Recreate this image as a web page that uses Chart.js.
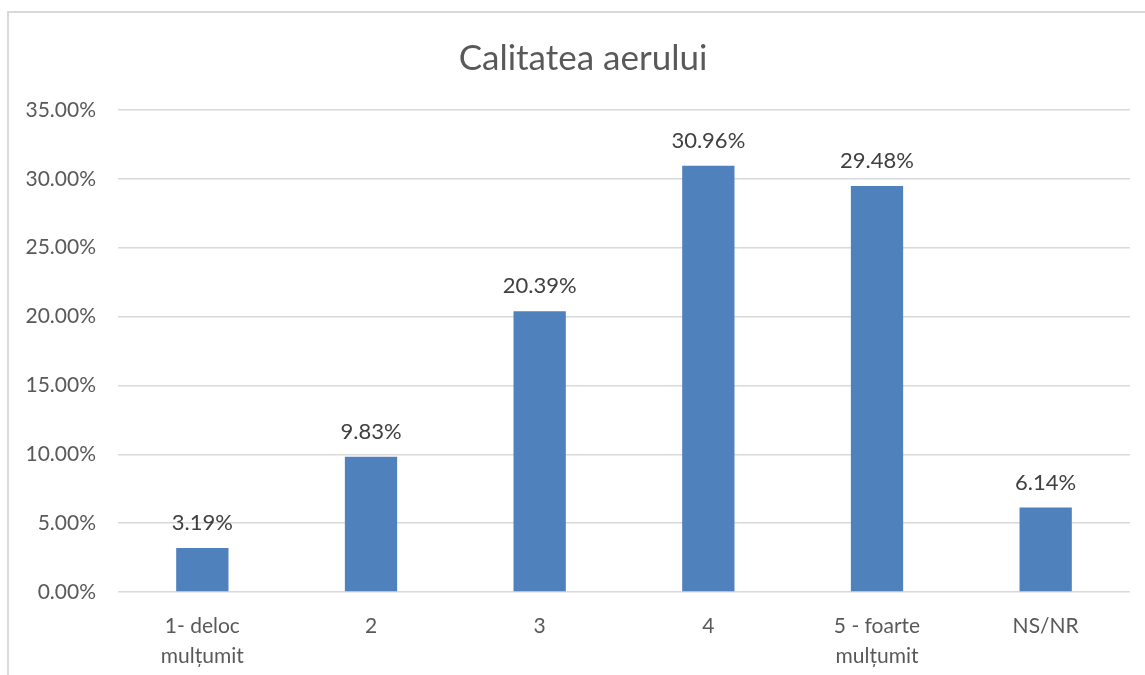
<!DOCTYPE html>
<html>
<head>
<meta charset="utf-8">
<script src="https://cdn.jsdelivr.net/npm/chart.js@4"></script>
<style>
  body { margin: 0; background: #fff; overflow: hidden; }
  #frame { position: absolute; left: 7px; top: 11px; width: 1200px; height: 700px; border: 2px solid #d9d9d9; }
  #wrap { position: absolute; left: 0; top: 0; width: 1145px; height: 675px; }
</style>
</head>
<body>
<div id="frame"></div>
<div id="wrap"><canvas id="myChart"></canvas></div>
<script>
// categories and values
var categories = [["1- deloc", "mulțumit"], "2", "3", "4", ["5 - foarte", "mulțumit"], "NS/NR"];
var values = [3.19, 9.83, 20.39, 30.96, 29.48, 6.14];
var yTicks = [0, 5, 10, 15, 20, 25, 30, 35];

var fontName = "Lato, 'Open Sans', sans-serif";

// labels above the bars
var barLabels = {
    id: 'barLabels',
    afterLayout: function (chart) {
        // nudge the title a bit to the right, like in the original
        if (chart.titleBlock) chart.titleBlock.left += 16;
    },
    afterDatasetsDraw: function (chart) {
        var ctx = chart.ctx;
        var meta = chart.getDatasetMeta(0);
        ctx.save();
        ctx.font = "22px " + fontName;
        ctx.fillStyle = "#404040";
        ctx.textAlign = "center";
        ctx.textBaseline = "middle";
        meta.data.forEach(function (bar, i) {
            ctx.fillText(values[i].toFixed(2) + "%", bar.x, bar.y - 25);
        });
        ctx.restore();
    }
};

var myChart = document.getElementById('myChart').getContext('2d');
var airChart = new Chart(myChart, {
    type: 'bar',
    data: {
        labels: categories,
        datasets: [{
            label: "Calitatea aerului",
            data: values,
            backgroundColor: "#4f81bd",
            categoryPercentage: 1,
            barPercentage: 0.31
        }]
    },
    options: {
        responsive: true,
        maintainAspectRatio: false,
        animation: false,
        layout: { padding: { left: 20, right: 15, top: 0, bottom: 0 } },
        plugins: {
            legend: { display: false },
            tooltip: { enabled: false },
            title: {
                display: true,
                text: "Calitatea aerului",
                color: "#595959",
                font: { family: fontName, size: 35, weight: 'normal' },
                padding: { top: 38, bottom: 30 }
            }
        },
        scales: {
            x: {
                grid: { display: false },
                border: { display: false },
                ticks: {
                    color: "#595959",
                    font: { family: fontName, size: 21, lineHeight: 1.4 },
                    padding: 12,
                    maxRotation: 0,
                    autoSkip: false
                },
                afterFit: function (scale) { scale.height = 83; }
            },
            y: {
                min: 0,
                max: 35,
                afterBuildTicks: function (scale) {
                    scale.ticks = yTicks.map(function (v) { return { value: v }; });
                },
                grid: { color: "#d9d9d9", lineWidth: 1.5, drawTicks: false },
                border: { display: false },
                ticks: {
                    color: "#595959",
                    font: { family: fontName, size: 21 },
                    padding: 22,
                    callback: function (v) { return v.toFixed(2) + "%"; }
                },
                afterFit: function (scale) { scale.width = 98; }
            }
        }
    },
    plugins: [barLabels]
});
</script>
</body>
</html>
